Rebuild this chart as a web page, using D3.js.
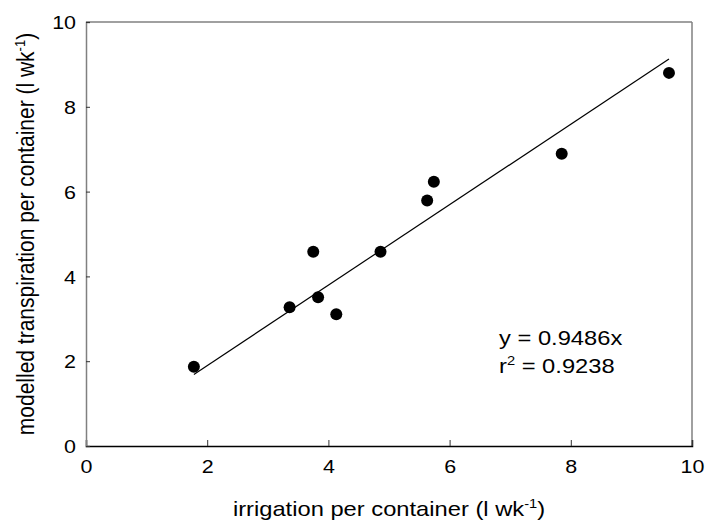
<!DOCTYPE html>
<html><head><meta charset="utf-8">
<script src="https://cdn.jsdelivr.net/npm/d3@7"></script>
<style>body{margin:0;background:#fff}svg{display:block}text{font-family:"Liberation Sans",Arial,sans-serif}</style>
</head><body>
<script>
const irrigation = [1.78, 3.36, 3.75, 3.83, 4.13, 4.86, 5.63, 5.74, 7.85, 9.62];
const transpiration = [1.87, 3.27, 4.58, 3.51, 3.11, 4.58, 5.79, 6.23, 6.89, 8.80];
const slope = 0.9486;
const xTicks = [0, 2, 4, 6, 8, 10];
const yTicks = [0, 2, 4, 6, 8, 10];

const W = 706, H = 525;
const SX = 1.13; // horizontal stretch of the lettering
const m = {l: 86, r: 14, t: 22, b: 79};
const svg = d3.select("body").append("svg").attr("width", W).attr("height", H);
const x = d3.scaleLinear().domain([0, 10]).range([m.l, W - m.r]);
const y = d3.scaleLinear().domain([0, 10]).range([H - m.b, m.t]);

// frame
svg.append("line").attr("x1", x(0)).attr("x2", x(10)).attr("y1", y(10)).attr("y2", y(10)).attr("stroke", "#808080").attr("stroke-width", 1.5);
svg.append("line").attr("x1", x(10)).attr("x2", x(10)).attr("y1", y(10)).attr("y2", y(0)).attr("stroke", "#808080").attr("stroke-width", 1.5);

const xa = svg.append("g").attr("transform", `translate(0,${y(0)})`)
  .call(d3.axisBottom(x).tickValues(xTicks).tickSize(-6).tickFormat(d3.format("d")));
const ya = svg.append("g").attr("transform", `translate(${x(0)},0)`)
  .call(d3.axisLeft(y).tickValues(yTicks).tickSize(-4).tickFormat(d3.format("d")));
xa.select(".domain").attr("stroke", "#000").attr("stroke-width", 1.5);
ya.select(".domain").attr("stroke", "#808080").attr("stroke-width", 1.5);
xa.selectAll(".tick line").attr("stroke", "#333");
ya.selectAll(".tick line").attr("stroke", "#333");
xa.selectAll("text").attr("y", 27).attr("dy", null).attr("x", 0).attr("transform", `scale(${SX},1)`);
ya.selectAll("text").attr("x", -10 / SX).attr("dy", "0.35em").attr("transform", `scale(${SX},1)`);
[xa, ya].forEach(a => a.selectAll("text").attr("font-size", 19).attr("fill", "#000").attr("font-family", '"Liberation Sans",Arial,sans-serif'));

// regression line
const xmin = d3.min(irrigation), xmax = d3.max(irrigation);
svg.append("line").attr("x1", x(xmin)).attr("y1", y(slope * xmin)).attr("x2", x(xmax)).attr("y2", y(slope * xmax))
  .attr("stroke", "#000").attr("stroke-width", 1.2);

// points
svg.append("g").selectAll("circle").data(irrigation).join("circle")
  .attr("cx", d => x(d)).attr("cy", (d, i) => y(transpiration[i])).attr("r", 6).attr("fill", "#000");

// equation
const eq = svg.append("g").attr("font-size", 21);
eq.append("text").attr("transform", `translate(499,345) scale(${SX},1)`).text("y = 0.9486x");
const r2 = eq.append("text").attr("transform", `translate(499,373) scale(${SX},1)`);
r2.append("tspan").text("r");
r2.append("tspan").attr("dy", -8).attr("font-size", 13).text("2");
r2.append("tspan").attr("dy", 8).text(" = 0.9238");

// axis titles
const xt = svg.append("text").attr("transform", `translate(${(x(0) + x(10)) / 2},516) scale(${SX},1)`).attr("text-anchor", "middle").attr("font-size", 21);
xt.append("tspan").text("irrigation per container (l wk");
xt.append("tspan").attr("dy", -8).attr("font-size", 13).text("-1");
xt.append("tspan").attr("dy", 8).text(")");

const yt = svg.append("text").attr("transform", `translate(34,${(y(0) + y(10)) / 2}) scale(${SX},1) rotate(-90)`).attr("text-anchor", "middle").attr("font-size", 21);
yt.append("tspan").text("modelled transpiration per container (l wk");
yt.append("tspan").attr("dy", -8).attr("font-size", 13).text("-1");
yt.append("tspan").attr("dy", 8).text(")");
</script>
</body></html>
